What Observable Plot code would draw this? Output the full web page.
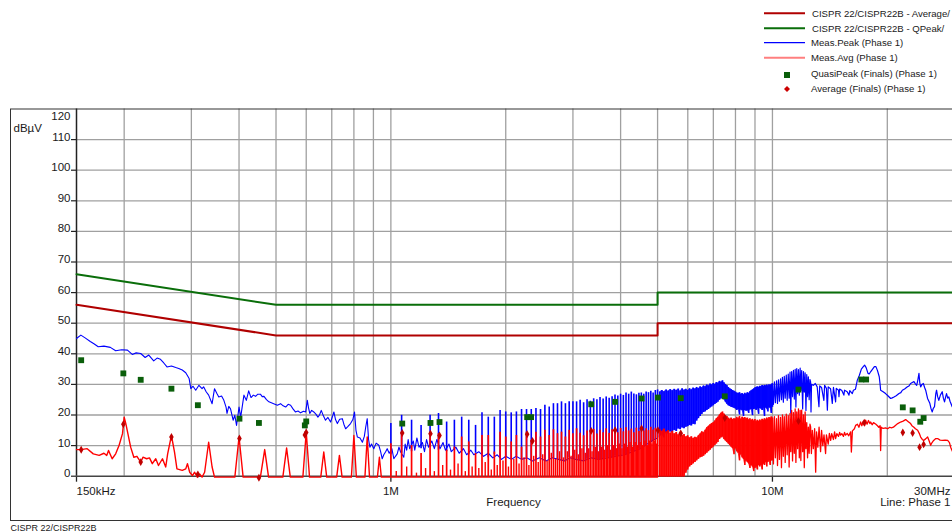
<!DOCTYPE html>
<html><head><meta charset="utf-8">
<script src="https://cdn.jsdelivr.net/npm/d3@7"></script>
<script src="https://cdn.jsdelivr.net/npm/@observablehq/plot@0.6"></script>
<style>
html,body{margin:0;padding:0;background:#fff;overflow:hidden;width:952px;height:531px}
#wrap{position:relative;width:952px;height:531px}
#legend{position:absolute;left:0;top:0}
</style></head>
<body><div id="wrap"><div id="chart"></div>
<svg id="legend" width="952" height="100" font-family="Liberation Sans, Arial, sans-serif" font-size="9.6" fill="#1a1a1a">
<line x1="764" x2="805" y1="13.3" y2="13.3" stroke="#b00000" stroke-width="2"/>
<text x="812" y="16.7">CISPR 22/CISPR22B - Average/</text>
<line x1="764" x2="805" y1="28.3" y2="28.3" stroke="#0a6e0a" stroke-width="2"/>
<text x="812" y="31.7">CISPR 22/CISPR22B - QPeak/</text>
<line x1="764" x2="805" y1="42.7" y2="42.7" stroke="#0000ff" stroke-width="1.2"/>
<text x="811" y="46.1">Meas.Peak (Phase 1)</text>
<line x1="764" x2="805" y1="57.7" y2="57.7" stroke="#ff7f7f" stroke-width="2"/>
<text x="811" y="61">Meas.Avg (Phase 1)</text>
<rect x="784" y="72" width="6" height="6" fill="#0a5e0a"/>
<text x="811" y="76.6">QuasiPeak (Finals) (Phase 1)</text>
<path d="M787,86 L790,89 L787,92 L784,89Z" fill="#cc0000"/>
<text x="811" y="91.6">Average (Finals) (Phase 1)</text>
</svg></div>
<script>
// ---------- data (frequency in kHz, level in dBµV) ----------
const xGrid = [200,300,400,500,600,700,800,900,1000,2000,3000,4000,5000,6000,7000,8000,9000,10000,20000];
const yGrid = [10,20,30,40,50,60,70,80,90,100,110];
const yLabels = [0,10,20,30,40,50,60,70,80,90,100,110];
const yTopLabel = [120];
const xTicks = [150,1000,10000];
const xLabelStart = [{f:150,label:"150kHz"}];
const xLabelMid = [{f:1000,label:"1M"},{f:10000,label:"10M"}];
const xLabelEnd = [{f:30000,label:"30MHz"}];

const qpLimit = [[150,66],[500,56],[5000,56],[5000,60],[30000,60]];
const avgLimit = [[150,56],[500,46],[5000,46],[5000,50],[30000,50]];

const peakTraceLow = [[150,45.0],[154,46.1],[158,45.2],[163,44.0],[167,43.2],[171,42.3],[177,42.5],[184,42.1],[190,41.0],[197,41.3],[204,41.2],[210,39.8],[215,40.3],[221,40.1],[227,38.8],[232,39.6],[239,37.7],[244,38.6],[249,38.2],[254,37.0],[259,35.7],[266,36.0],[273,35.5],[278,35.2],[284,34.7],[290,33.8],[296,31.9],[299,28.6],[303,29.4],[308,28.1],[314,29.7],[320,28.6],[323,29.2],[328,27.6],[333,26.5],[340,23.7],[345,28.6],[350,27.0],[354,25.9],[360,26.2],[365,24.8],[370,22.5],[372,20.5],[376,22.8],[380,22.0],[386,18.3],[390,19.9],[394,16.6],[397,19.5],[400,22.6],[404,19.3],[412,26.5],[418,24.8],[424,27.9],[430,25.7],[436,26.5],[442,26.1],[448,26.8],[455,26.8],[460,26.0],[465,26.1],[472,25.0],[479,24.3],[486,24.0],[493,23.7],[504,23.2],[514,23.7],[522,23.0],[530,22.6],[538,23.5],[546,23.2],[554,22.0],[562,21.0],[571,21.3],[580,20.7],[590,21.2],[598,21.0],[604,24.8],[608,22.5],[613,20.5],[620,21.5],[628,21.0],[636,20.3],[644,19.3],[650,20.0],[657,21.5],[665,19.8],[674,18.3],[684,19.2],[695,17.7],[703,19.5],[709,21.0],[716,18.5],[724,17.2],[734,18.6],[746,18.8],[753,17.0],[761,15.5],[772,16.3],[784,17.2],[795,18.5],[803,21.0],[810,15.0],[817,12.8],[830,12.5],[842,11.1],[852,13.0],[859,16.0],[867,18.8],[874,12.0],[881,9.5],[890,10.5],[902,9.0],[915,10.8],[930,10.1],[940,8.0],[949,5.7],[958,7.0],[968,7.9],[978,9.0],[990,7.5],[1006,9.0],[1018,5.7],[1028,6.5],[1039,7.3],[1050,9.5],[1060,8.0],[1081,6.2],[1090,10.5],[1100,8.5],[1110,12.0],[1120,9.0],[1145,11.5],[1155,8.5],[1170,12.5],[1185,9.5],[1210,11.0],[1225,8.0],[1240,12.0],[1255,9.5],[1280,11.5],[1300,9.0],[1320,12.0],[1345,9.0],[1370,11.0],[1390,8.5],[1420,10.5],[1440,8.0],[1480,9.5],[1510,7.5],[1550,9.0],[1580,7.0],[1620,8.5],[1650,7.0],[1700,8.0],[1750,6.5],[1800,7.5],[1850,6.0],[1900,7.0],[1950,5.5],[2000,6.5],[2070,5.5],[2130,6.5],[2200,5.5],[2270,6.0],[2350,5.0],[2450,6.0],[2550,5.0],[2650,6.0],[2750,5.5],[2850,5.0],[2950,6.0],[3050,5.5],[3200,5.0],[3350,6.0],[3500,5.5],[3700,6.0],[3900,6.5],[4100,7.0],[4300,8.0],[4500,9.0],[4700,10.5],[4900,12.0],[5000,12.5]];

// peak comb 1–5 MHz: [kHz, low, high]
const peakComb = [[1000,7.0,17.2],[1067,7.5,19.9],[1133,8.0,18.3],[1200,9.0,16.6],[1267,9.5,19.9],[1333,8.5,20.5],[1400,8.0,17.7],[1467,8.5,18.3],[1533,8.0,19.3],[1600,7.0,18.3],[1667,7.5,16.6],[1733,7.0,20.7],[1800,6.0,19.3],[1867,7.0,19.3],[1933,6.0,21.5],[2000,6.5,21.0],[2067,5.5,20.7],[2133,6.5,21.0],[2200,5.5,21.8],[2267,6.0,21.8],[2333,5.0,21.8],[2400,5.5,22.1],[2467,6.0,21.8],[2533,5.0,23.2],[2600,5.5,22.6],[2667,6.0,23.7],[2733,5.5,23.7],[2800,5.0,24.3],[2867,5.0,23.7],[2933,6.0,24.3],[3000,5.5,24.3],[3067,5.5,24.3],[3133,5.0,24.8],[3200,5.0,24.0],[3267,5.5,25.0],[3333,6.0,24.5],[3400,5.5,25.3],[3467,5.5,25.0],[3533,5.5,25.7],[3600,5.5,25.2],[3667,6.0,25.9],[3733,6.0,25.5],[3800,6.0,26.0],[3867,6.5,26.5],[3933,6.5,26.2],[4000,6.5,26.8],[4067,7.0,26.4],[4133,7.0,27.2],[4200,7.5,26.8],[4267,8.0,27.5],[4333,8.0,26.9],[4400,8.5,26.6],[4467,9.0,27.1],[4533,9.0,27.2],[4600,9.5,26.8],[4667,10.0,27.5],[4733,10.5,27.3],[4800,11.0,27.8],[4867,11.5,27.2],[4933,12.0,28.0],[5000,12.5,28.2]];
// peak comb 5–10 MHz: [kHz, low, high]
const peakCombDense = [[5067,13.0,27.5],[5133,13.5,28.0],[5200,12.5,27.6],[5267,14.0,28.2],[5333,13.8,27.8],[5400,14.5,28.3],[5467,14.2,27.9],[5533,15.0,28.4],[5600,14.6,28.0],[5667,15.5,28.5],[5733,15.2,27.8],[5800,15.8,28.6],[5867,15.5,28.1],[5933,16.0,28.4],[6000,16.2,28.0],[6067,16.6,28.6],[6133,16.4,28.2],[6200,17.0,28.8],[6267,16.8,28.5],[6333,18.0,29.0],[6400,18.8,28.6],[6467,19.5,29.2],[6533,20.2,28.9],[6600,20.8,29.5],[6667,21.0,29.2],[6733,21.5,29.8],[6800,21.8,29.5],[6867,22.3,30.1],[6933,22.6,29.8],[7000,23.0,30.3],[7067,23.4,30.0],[7133,23.8,30.6],[7200,24.2,30.4],[7267,24.8,31.0],[7333,25.2,30.7],[7400,25.4,31.2],[7467,25.0,30.5],[7533,24.2,30.0],[7600,23.5,29.6],[7667,23.0,29.0],[7733,22.8,28.6],[7800,22.5,28.3],[7867,22.4,28.0],[7933,22.2,27.8],[8000,22.0,27.5],[8067,21.5,27.2],[8133,21.8,27.0],[8200,20.0,27.3],[8267,21.6,26.8],[8333,21.4,27.0],[8400,19.5,26.6],[8467,21.5,27.1],[8533,21.2,26.8],[8600,21.4,27.3],[8667,20.5,27.0],[8733,21.6,27.6],[8800,21.8,27.9],[8867,19.8,28.2],[8933,21.8,28.5],[9000,22.0,28.8],[9067,21.5,29.0],[9133,22.0,29.2],[9200,20.2,29.0],[9267,22.1,29.4],[9333,22.0,29.2],[9400,21.5,29.6],[9467,22.2,29.3],[9533,19.5,29.7],[9600,22.3,29.5],[9667,22.0,29.8],[9733,21.0,29.5],[9800,22.4,29.9],[9867,22.2,29.6],[9933,20.5,30.0],[10000,22.5,30.2]];

const peakTraceHigh = [[10000,30.2],[10060,23.5],[10120,30.8],[10180,24.0],[10250,31.2],[10310,23.8],[10370,31.5],[10430,24.5],[10500,31.8],[10560,25.0],[10620,32.3],[10680,24.2],[10740,32.6],[10800,25.5],[10870,33.0],[10930,24.8],[11000,33.4],[11060,25.5],[11120,34.0],[11170,20.6],[11230,34.2],[11290,26.0],[11350,34.6],[11410,25.2],[11470,34.9],[11520,22.6],[11580,35.2],[11640,27.0],[11700,34.8],[11760,26.5],[11820,35.3],[11870,28.0],[11930,34.5],[12000,22.0],[12060,34.2],[12120,27.5],[12180,33.8],[12240,21.5],[12300,33.2],[12360,26.0],[12420,32.5],[12480,25.0],[12540,31.6],[12590,30.8],[12620,21.0],[12660,30.0],[12800,29.7],[12950,30.3],[13100,29.2],[13240,22.7],[13300,29.5],[13450,29.0],[13640,24.8],[13700,29.7],[13850,28.7],[13930,21.6],[14000,29.2],[14200,28.6],[14350,23.8],[14450,29.0],[14640,24.3],[14700,28.7],[14900,28.1],[14940,26.0],[15000,28.5],[15200,28.0],[15390,26.5],[15450,28.1],[15700,27.6],[15870,26.5],[15950,28.0],[16190,27.0],[16300,28.1],[16500,28.4],[16690,31.4],[16900,33.0],[17100,35.0],[17300,35.8],[17440,36.3],[17600,35.5],[17800,33.6],[17930,33.4],[18100,34.2],[18300,35.0],[18500,35.8],[18670,35.8],[18850,34.5],[19050,32.5],[19150,30.0],[19210,28.1],[19500,27.6],[19790,27.0],[20100,26.2],[20410,25.4],[20600,25.6],[20820,25.9],[21100,26.3],[21460,27.0],[21700,27.3],[21900,28.1],[22200,28.5],[22580,29.2],[22800,29.5],[23020,30.3],[23250,30.6],[23490,30.9],[23700,30.2],[23880,29.7],[24050,31.5],[24210,33.6],[24330,30.5],[24460,29.2],[24650,30.0],[24860,30.3],[25050,29.0],[25210,28.1],[25500,25.4],[25850,23.8],[26050,22.0],[26230,21.0],[26400,22.2],[26590,22.7],[26800,27.0],[26920,28.1],[27100,26.0],[27290,24.8],[27550,26.5],[27860,27.6],[28050,25.5],[28250,24.3],[28450,26.0],[28590,27.0],[28800,25.5],[28990,25.9],[29200,24.5],[29590,22.7],[30000,22.2]];

const avgFloor = -0.3;
const avgTraceLow = [[150,8.7],[154,8.7],[160,9.0],[166,7.3],[172,6.8],[177,7.5],[180,6.8],[182,8.4],[186,5.7],[190,7.3],[194,10.1],[198,13.9],[200,19.3],[202,17.2],[208,9.5],[212,6.2],[216,6.5],[221,4.6],[224,6.2],[229,5.7],[233,6.0],[237,4.1],[242,5.7],[246,3.5],[252,5.7],[257,3.0],[260,7.3],[266,13.3],[271,7.9],[275,2.4],[284,1.9],[290,2.4],[293,4.1],[297,1.3],[302,0.2],[306,1.3],[311,-0.3],[316,0.6],[320,-0.3],[325,1.3],[333,11.1],[340,3.0],[345,-0.3],[390,-0.3],[400,12.8],[410,-0.3],[455,-0.3],[467,8.7],[478,-0.3],[521,-0.3],[533,9.2],[545,-0.3],[588,-0.3],[600,14.4],[612,-0.3],[655,-0.3],[667,7.9],[679,-0.3],[721,-0.3],[733,6.8],[745,-0.3],[788,-0.3],[800,13.3],[812,-0.3],[855,-0.3],[867,12.8],[879,-0.3],[922,-0.3],[933,6.2],[944,-0.3],[5000,-0.3]];

// average comb 1–5 MHz: [kHz, peak] rising from the floor
const avgComb = [[1000,10.6],[1067,14.4],[1133,10.0],[1200,7.4],[1267,14.4],[1333,13.9],[1400,8.5],[1467,9.5],[1533,12.8],[1600,11.2],[1667,7.4],[1733,13.3],[1800,13.3],[1867,7.9],[1933,14.4],[2000,12.8],[2067,11.2],[2133,13.3],[2200,9.5],[2267,14.4],[2333,11.7],[2400,14.4],[2467,12.8],[2533,15.0],[2600,13.3],[2667,15.2],[2733,13.9],[2800,14.4],[2867,12.8],[2933,15.0],[3000,13.9],[3067,15.5],[3133,14.0],[3200,13.2],[3267,14.8],[3333,14.5],[3400,15.3],[3467,13.8],[3533,15.0],[3600,14.2],[3667,15.5],[3733,14.0],[3800,15.2],[3867,15.0],[3933,14.2],[4000,15.6],[4067,14.5],[4133,15.8],[4200,14.8],[4267,15.4],[4333,14.2],[4400,15.7],[4467,14.6],[4533,15.9],[4600,14.8],[4667,15.5],[4733,14.9],[4800,16.0],[4867,15.1],[4933,15.7],[5000,15.3]];
const avgSubComb = [[1033,1.5],[1100,3.0],[1167,1.0],[1233,2.5],[1300,1.5],[1367,3.5],[1433,2.0],[1500,4.0],[1567,1.5],[1633,3.0],[1700,2.5],[1767,4.5],[1833,2.0],[1900,3.5],[1967,5.0],[2033,3.0],[2100,5.5],[2167,4.0],[2233,6.0],[2300,3.5],[2367,6.5],[2433,4.5],[2500,7.0],[2567,5.0],[2633,7.5],[2700,5.5],[2767,8.0],[2833,6.0],[2900,8.0],[2967,6.5],[3033,8.5],[3100,7.0],[3167,9.0],[3233,7.5],[3300,9.0],[3367,8.0],[3433,9.5],[3500,8.0],[3567,9.5],[3633,8.5],[3700,10.0],[3767,8.5],[3833,10.0],[3900,9.0],[3967,10.5],[4033,9.0],[4100,10.5],[4167,9.5],[4233,11.0],[4300,9.5],[4367,11.0],[4433,10.0],[4500,11.0],[4567,10.0],[4633,11.5],[4700,10.0],[4767,11.5],[4833,10.5],[4900,11.5],[4967,10.5]];
// average comb 5–10 MHz: [kHz, low, high]
const avgCombDense = [[5067,-0.3,15.2],[5133,-0.3,14.6],[5200,-0.3,15.4],[5267,-0.3,14.4],[5333,-0.3,14.9],[5400,-0.3,14.0],[5467,-0.3,14.7],[5533,-0.3,13.8],[5600,-0.3,14.3],[5667,-0.3,13.5],[5733,-0.3,14.0],[5800,-0.3,13.2],[5867,-0.3,13.6],[5933,1.0,12.8],[6000,2.0,13.2],[6067,3.0,12.5],[6133,3.5,12.9],[6200,4.0,12.3],[6267,4.5,12.7],[6333,5.0,12.5],[6400,5.5,13.2],[6467,6.0,13.8],[6533,6.2,14.5],[6600,6.5,14.2],[6667,7.0,15.0],[6733,7.5,15.8],[6800,8.0,16.3],[6867,8.5,16.8],[6933,9.0,17.2],[7000,9.5,17.5],[7067,10.0,18.0],[7133,10.5,18.8],[7200,11.0,19.3],[7267,12.0,20.0],[7333,12.5,20.6],[7400,12.8,21.0],[7467,12.0,20.3],[7533,11.5,19.8],[7600,11.0,19.5],[7667,10.5,19.0],[7733,10.0,18.6],[7800,9.5,19.0],[7867,9.0,18.5],[7933,7.0,18.8],[8000,9.0,18.6],[8067,8.0,19.3],[8133,7.5,18.8],[8200,5.0,19.5],[8267,7.0,18.6],[8333,6.0,19.3],[8400,5.5,18.9],[8467,3.5,19.2],[8533,5.0,18.7],[8600,4.5,19.0],[8667,4.0,18.4],[8733,2.5,18.8],[8800,3.5,18.2],[8867,3.0,18.6],[8933,1.5,18.0],[9000,2.5,18.5],[9067,3.0,17.8],[9133,2.0,18.3],[9200,3.5,17.9],[9267,3.0,18.4],[9333,3.5,18.0],[9400,2.0,18.6],[9467,4.0,18.2],[9533,3.5,18.8],[9600,4.5,18.4],[9667,3.0,19.0],[9733,4.5,18.6],[9800,5.0,19.2],[9867,3.5,18.8],[9933,5.0,19.4],[10000,5.0,19.0]];

const avgTraceHigh = [[10000,19.0],[10060,4.0],[10120,19.5],[10180,6.0],[10250,18.8],[10310,3.5],[10370,19.8],[10430,5.5],[10500,19.2],[10560,2.8],[10620,20.0],[10680,6.5],[10740,19.5],[10800,4.5],[10870,20.3],[10930,7.0],[11000,19.8],[11060,3.0],[11120,20.5],[11170,8.0],[11230,21.5],[11290,5.0],[11350,20.8],[11410,7.5],[11470,22.0],[11520,4.5],[11580,21.0],[11640,9.0],[11700,22.0],[11760,6.0],[11820,21.5],[11870,5.1],[11930,21.6],[12000,8.0],[12060,20.0],[12120,2.8],[12180,21.0],[12240,9.0],[12300,17.5],[12360,6.0],[12420,16.0],[12480,7.5],[12540,17.0],[12590,16.1],[12650,7.4],[12720,15.0],[12800,9.0],[12900,15.5],[12980,1.3],[13050,14.5],[13150,9.5],[13250,16.0],[13370,8.0],[13450,15.0],[13550,10.0],[13650,13.5],[13780,7.4],[13850,13.5],[14000,10.5],[14100,14.0],[14210,11.7],[14300,13.9],[14450,12.0],[14550,14.5],[14640,12.3],[14750,13.9],[14900,13.0],[15000,14.3],[15090,13.4],[15200,13.9],[15350,13.0],[15450,14.3],[15550,13.4],[15700,14.0],[15850,13.2],[16030,14.5],[16100,7.9],[16200,14.8],[16400,15.5],[16520,16.6],[16700,17.0],[16850,16.0],[17030,17.7],[17150,16.5],[17300,18.0],[17450,16.5],[17550,18.3],[17700,17.0],[17850,18.2],[18000,17.2],[18090,17.7],[18250,16.8],[18400,17.5],[18670,17.0],[18850,16.5],[19000,16.0],[19150,16.5],[19210,8.4],[19280,16.0],[19500,15.6],[19800,15.8],[20040,15.5],[20300,16.0],[20500,15.8],[20750,16.0],[21000,16.6],[21300,17.2],[21670,17.7],[22000,18.0],[22340,18.5],[22700,17.8],[23020,17.2],[23200,16.5],[23440,16.1],[23700,15.5],[24020,15.0],[24250,14.0],[24460,12.8],[24700,12.0],[24900,11.7],[25200,12.2],[25510,12.8],[25750,11.5],[25980,10.1],[26200,11.0],[26450,11.7],[26800,12.3],[27100,12.3],[27500,11.8],[27930,11.7],[28350,11.8],[28790,11.7],[29100,11.0],[29310,9.5],[29670,7.9],[30000,7.5]];

const qpFinals = [[154.3,37.9],[199,33.6],[221,31.5],[266,28.6],[312,23.2],[401,18.8],[451,17.4],[595,16.6],[600,17.9],[1071,17.2],[1270,17.4],[1341,17.7],[2276,19.3],[2330,19.3],[3350,23.5],[3870,24.3],[4540,25.4],[5010,25.7],[5750,25.5],[7500,26.1],[11700,28.3],[17100,31.6],[17600,31.6],[21960,22.5],[23300,21.5],[24400,17.8],[24900,19.0]];
const avgFinals = [[154.3,8.65],[199,17.0],[221,4.6],[266,12.8],[312,0.6],[401,12.3],[451,-0.5],[595,13.5],[600,14.3],[1071,14.1],[1270,13.9],[1341,13.3],[2276,13.7],[2350,11.5],[3350,14.8],[3870,15.0],[4540,15.6],[5010,15.0],[5750,14.0],[7500,19.0],[11700,18.0],[17400,17.5],[21960,14.3],[23300,14.1],[24300,9.5],[24900,10.4]];

// ---------- chart ----------
const X = d => d[0], Y = d => d[1];
const font = "Liberation Sans, Arial, sans-serif";
const chart = Plot.plot({
  width: 952, height: 531,
  marginLeft: 76, marginRight: 0, marginTop: 108.5, marginBottom: 55.3,
  x: {type: "log", domain: [150, 30000], range: [76, 954]},
  y: {domain: [0, 120], range: [475.7, 108.5]},
  style: {background: "#fff", fontFamily: font, fontSize: "11.5px", color: "#1a1a1a", overflow: "visible"},
  marks: [
    Plot.ruleX(xGrid, {stroke: "#a0a0a0", strokeWidth: 1.3}),
    Plot.ruleY(yGrid, {stroke: "#a0a0a0", strokeWidth: 1.3}),
    Plot.frame({stroke: "#333", strokeWidth: 1, insetLeft: -66, insetBottom: -44.3, insetRight: -3}),
    Plot.axisX({ticks: xTicks, tickSize: 6, tickFormat: () => "", label: null, stroke: "#222", strokeWidth: 1.3}),
    Plot.axisY({ticks: yLabels, tickSize: 5, tickFormat: () => "", label: null, stroke: "#222", strokeWidth: 1.2}),
    Plot.ruleX([150], {stroke: "#222", strokeWidth: 1.5}),
    Plot.ruleY([0], {stroke: "#444", strokeWidth: 1.6}),
    // labels
    Plot.text(yLabels, {y: d => d, text: d => String(d), frameAnchor: "left", textAnchor: "end", lineAnchor: "bottom", dx: -6, dy: 1}),
    Plot.text(yTopLabel, {y: d => d, text: d => String(d), frameAnchor: "left", textAnchor: "end", lineAnchor: "bottom", dx: -6, dy: 11}),
    Plot.text(xLabelStart, {x: "f", text: "label", frameAnchor: "bottom", textAnchor: "start", lineAnchor: "bottom", dy: 18.5}),
    Plot.text(xLabelMid, {x: "f", text: "label", frameAnchor: "bottom", textAnchor: "middle", lineAnchor: "bottom", dy: 18.5}),
    Plot.text(xLabelEnd, {x: "f", text: "label", frameAnchor: "bottom", textAnchor: "end", lineAnchor: "bottom", dx: -4, dy: 18.5}),
    Plot.text(["dBµV"], {text: d => d, frameAnchor: "top-left", textAnchor: "start", lineAnchor: "bottom", dx: -63, dy: 23}),
    Plot.text(["Frequency"], {text: d => d, frameAnchor: "bottom", textAnchor: "middle", lineAnchor: "bottom", dx: -1, dy: 29.5}),
    Plot.text(["Line: Phase 1"], {text: d => d, frameAnchor: "bottom-right", textAnchor: "end", lineAnchor: "bottom", dx: -2, dy: 29.5}),
    Plot.text(["CISPR 22/CISPR22B"], {text: d => d, frameAnchor: "bottom-left", textAnchor: "start", lineAnchor: "bottom", dx: -66, dy: 54.5, fontSize: 9}),
    // limits
    Plot.line(qpLimit, {x: X, y: Y, stroke: "#0a6e0a", strokeWidth: 2}),
    Plot.line(avgLimit, {x: X, y: Y, stroke: "#b00000", strokeWidth: 2}),
    // peak trace
    Plot.line(peakTraceLow, {x: X, y: Y, stroke: "#0000ff", strokeWidth: 1.1}),
    Plot.ruleX(peakComb, {x: X, y1: d => d[1], y2: d => d[2], stroke: "#0000ff", strokeWidth: 1.6}),
    Plot.areaY(peakCombDense, {x: X, y1: d => d[1], y2: d => d[2], fill: "#0000ff", fillOpacity: 0.8}),
    Plot.ruleX(peakCombDense, {x: X, y1: d => d[1], y2: d => d[2], stroke: "#0000ff", strokeWidth: 1.6}),
    Plot.line(peakTraceHigh, {x: X, y: Y, stroke: "#0000ff", strokeWidth: 1.2}),
    // average trace
    Plot.line(avgTraceLow, {x: X, y: Y, stroke: "#ff0000", strokeWidth: 1.4}),
    Plot.ruleX(avgSubComb, {x: X, y1: () => avgFloor, y2: Y, stroke: "#ff0000", strokeWidth: 1.4}),
    Plot.ruleX(avgComb, {x: X, y1: () => avgFloor, y2: Y, stroke: "#ff0000", strokeWidth: 1.7}),
    Plot.areaY(avgCombDense, {x: X, y1: d => d[1], y2: d => d[2], fill: "#ff0000", fillOpacity: 0.8}),
    Plot.ruleX(avgCombDense, {x: X, y1: d => d[1], y2: d => d[2], stroke: "#ff0000", strokeWidth: 1.6}),
    Plot.line(avgTraceHigh, {x: X, y: Y, stroke: "#ff0000", strokeWidth: 1.3}),
    // finals
    Plot.dot(qpFinals, {x: X, y: Y, symbol: "square", r: 3.3, fill: "#0a5e0a", stroke: "none"}),
    Plot.dot(avgFinals, {x: X, y: Y, symbol: "diamond", r: 2.4, fill: "#c00000", stroke: "none"})
  ]
});
document.getElementById("chart").appendChild(chart);
</script></body></html>
